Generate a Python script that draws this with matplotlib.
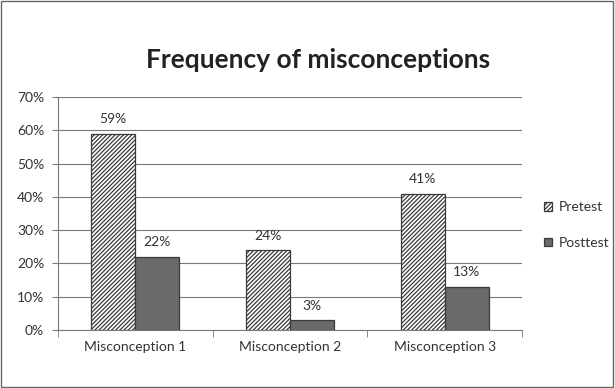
import matplotlib.pyplot as plt
import numpy as np
from matplotlib.patches import Rectangle
from matplotlib.ticker import MultipleLocator, PercentFormatter

categories = ["Misconception 1", "Misconception 2", "Misconception 3"]
pretest = [0.59, 0.24, 0.41]
posttest = [0.22, 0.03, 0.13]
series_names = ["Pretest", "Posttest"]

plt.rcParams["font.family"] = ["Lato", "DejaVu Sans"]
plt.rcParams["hatch.color"] = "#3a3a3a"
plt.rcParams["hatch.linewidth"] = 0.9


def main():
    fig = plt.figure(figsize=(6.15, 3.88), dpi=100)
    ax = fig.add_axes([0.0943, 0.1495, 0.7547, 0.6005])

    x = np.arange(len(categories))
    width = 0.285

    pre_bars = ax.bar(x - width / 2, pretest, width, color="white",
                      edgecolor="#3a3a3a", linewidth=0.9, hatch="////////",
                      label=series_names[0], zorder=3)
    post_bars = ax.bar(x + width / 2, posttest, width, color="#6a6a6a",
                       edgecolor="#3a3a3a", linewidth=0.9,
                       label=series_names[1], zorder=3)

    for bars in (pre_bars, post_bars):
        for bar in bars:
            h = bar.get_height()
            ax.annotate(f"{h:.0%}", (bar.get_x() + bar.get_width() / 2, h),
                        xytext=(0, 6), textcoords="offset points",
                        ha="center", va="bottom", fontsize=10, color="#333333")

    ax.set_xlim(-0.5, len(categories) - 0.5)
    ax.set_ylim(0, 0.70)
    ax.yaxis.set_major_locator(MultipleLocator(0.10))
    ax.yaxis.set_major_formatter(PercentFormatter(1.0, decimals=0))
    ax.grid(axis="y", color="#7a7a7a", linewidth=0.8, zorder=0)

    ax.set_xticks(x)
    ax.set_xticklabels(categories)
    ax.set_xticks(np.arange(-0.5, len(categories)), minor=True)
    ax.tick_params(axis="x", which="major", length=0, pad=8, labelsize=10,
                   colors="#333333")
    ax.tick_params(axis="x", which="minor", length=5, color="#7a7a7a")
    ax.tick_params(axis="y", length=4, color="#7a7a7a", labelsize=10,
                   labelcolor="#333333", pad=6)

    for side in ("top", "right"):
        ax.spines[side].set_visible(False)
    for side in ("left", "bottom"):
        ax.spines[side].set_color("#7a7a7a")
        ax.spines[side].set_linewidth(0.8)

    fig.text(0.517, 0.845, "Frequency of misconceptions", ha="center",
             va="center", fontsize=19, fontweight="bold", color="#222222")

    ax.legend(loc="center left", bbox_to_anchor=(1.02, 0.45), frameon=False,
              fontsize=10, handlelength=0.6, handleheight=0.6,
              handletextpad=0.5, labelspacing=1.7, labelcolor="#333333")

    fig.patches.append(Rectangle((0.002, 0.003), 0.995, 0.994,
                                 transform=fig.transFigure, fill=False,
                                 edgecolor="#666666", linewidth=1.0))

    fig.savefig("out.png", dpi=100)


if __name__ == "__main__":
    main()
